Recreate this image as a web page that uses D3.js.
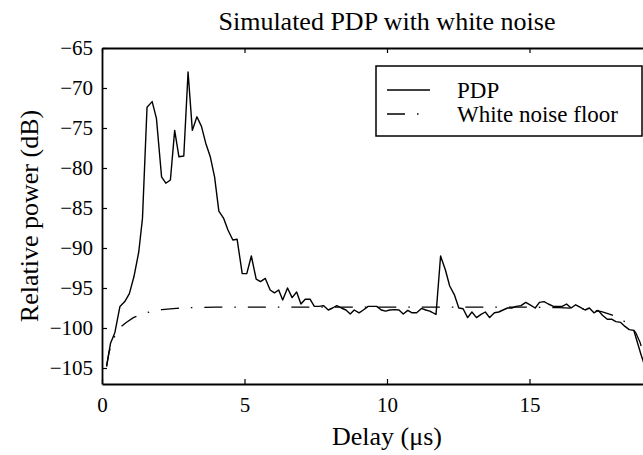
<!DOCTYPE html>
<html><head><meta charset="utf-8">
<script src="https://cdn.jsdelivr.net/npm/d3@7"></script>
<style>
body{margin:0;background:#fff}
svg{display:block}
text{font-family:"Liberation Serif","Times New Roman",serif;fill:#000}
</style>
</head><body>
<svg id="c" width="643" height="455"></svg>
<script>
// ---- data ----
const pdpDelay = [0.16,0.30,0.45,0.63,0.80,0.96,1.12,1.29,1.42,1.58,1.76,1.91,2.09,2.24,2.40,2.55,2.70,2.87,3.02,3.17,3.33,3.49,3.64,3.80,3.95,4.10,4.27,4.42,4.59,4.74,4.92,5.08,5.24,5.41,5.56,5.73,5.90,6.05,6.20,6.34,6.51,6.67,6.83,6.98,7.13,7.30,7.45,7.62,7.77,7.94,8.09,8.24,8.40,8.56,8.71,8.85,9.02,9.17,9.34,9.49,9.64,9.80,9.95,10.10,10.27,10.42,10.57,10.73,10.88,11.04,11.21,11.36,11.50,11.56,11.72,11.88,12.05,12.20,12.37,12.52,12.67,12.83,12.98,13.14,13.30,13.45,13.60,13.77,13.92,14.07,14.23,14.38,14.53,14.70,14.87,15.02,15.20,15.35,15.51,15.66,15.84,15.99,16.15,16.30,16.46,16.62,16.77,16.95,17.10,17.26,17.41,17.56,17.73,17.88,18.03,18.20,18.35,18.50,18.66,18.76,18.92,19.07];
const pdpPower = [-104.8,-101.9,-100.6,-97.3,-96.7,-95.7,-93.6,-90.5,-86.3,-72.4,-71.7,-73.8,-81.1,-81.9,-81.5,-75.3,-78.6,-78.5,-68.0,-75.3,-73.6,-74.8,-76.9,-78.6,-81.1,-85.4,-86.3,-87.75,-89.0,-88.9,-93.2,-93.2,-91.0,-93.9,-94.2,-93.8,-95.25,-95.6,-95.25,-96.5,-95.0,-96.2,-95.5,-97.0,-96.4,-96.4,-97.3,-97.3,-97.2,-97.75,-97.5,-97.2,-97.5,-97.75,-98.25,-97.75,-98.1,-97.75,-97.3,-97.3,-97.3,-97.75,-97.9,-97.75,-97.7,-97.75,-98.25,-97.8,-98.1,-98.1,-97.55,-97.75,-97.9,-98.0,-98.3,-91.0,-92.75,-94.75,-95.9,-97.5,-97.6,-98.7,-98.0,-98.7,-98.3,-98.0,-98.7,-98.1,-98.0,-97.75,-97.5,-97.5,-97.3,-97.2,-96.8,-97.1,-97.5,-96.8,-96.7,-97.0,-97.3,-97.3,-97.3,-97.0,-97.5,-97.1,-97.4,-97.75,-97.5,-98.1,-97.8,-98.4,-98.9,-98.9,-99.2,-99.3,-99.8,-100.2,-100.3,-101.5,-103.4,-105.0];
const noiseDelay = [0.16,0.25,0.35,0.50,0.65,0.85,1.10,1.40,1.70,2.10,2.60,3.20,4.00,9.60,15.23,16.03,16.63,17.13,17.53,17.83,18.13,18.38,18.58,18.73,18.88,18.98,19.07];
const noisePower = [-104.8,-103.0,-101.8,-100.6,-99.9,-99.3,-98.7,-98.3,-97.95,-97.7,-97.55,-97.45,-97.4,-97.4,-97.4,-97.45,-97.55,-97.7,-97.95,-98.3,-98.7,-99.3,-99.9,-100.6,-101.8,-103.0,-104.8];
const xTicks = [0,5,10,15,20];
const xTickLabels = ["0","5","10","15",""];
const yTicks = [-105,-100,-95,-90,-85,-80,-75,-70,-65];
const titleText = "Simulated PDP with white noise";
const xLabel = "Delay (\u03bcs)";
const yLabel = "Relative power (dB)";
const legendLabels = ["PDP","White noise floor"];

// ---- layout ----
const L = 102, T = 48, R = 672, B = 384;
const x = d3.scaleLinear().domain([0,20]).range([L,R]);
const y = d3.scaleLinear().domain([-107,-65]).range([B,T]);
const svg = d3.select("#c");
const fsTick = 21, fsLeg = 23, fsLab = 26;
const fmt = v => (v<0 ? "\u2212"+Math.abs(v) : String(v));

svg.append("defs").append("clipPath").attr("id","clip")
  .append("rect").attr("x",L).attr("y",T).attr("width",R-L).attr("height",B-T);

function styleAxis(g){
  g.select(".domain").attr("stroke","#000").attr("stroke-width",1.8);
  g.selectAll(".tick line").attr("stroke","#000").attr("stroke-width",1.2);
  g.selectAll(".tick text").attr("font-size",fsTick).attr("font-family","Liberation Serif");
}
svg.append("g").attr("transform",`translate(0,${B})`)
  .call(d3.axisBottom(x).tickValues(xTicks).tickFormat((d,i)=>xTickLabels[i]).tickSizeInner(-5).tickSizeOuter(0).tickPadding(13))
  .call(styleAxis);
svg.append("g").attr("transform",`translate(0,${T})`)
  .call(d3.axisTop(x).tickValues(xTicks).tickFormat("").tickSizeInner(-5).tickSizeOuter(0))
  .call(styleAxis);
svg.append("g").attr("transform",`translate(${L},0)`)
  .call(d3.axisLeft(y).tickValues(yTicks).tickFormat(fmt).tickSizeInner(-5).tickSizeOuter(0).tickPadding(9))
  .call(styleAxis);
svg.append("g").attr("transform",`translate(${R},0)`)
  .call(d3.axisRight(y).tickValues(yTicks).tickFormat("").tickSizeInner(-5).tickSizeOuter(0))
  .call(styleAxis);

const plot = svg.append("g").attr("clip-path","url(#clip)");
const line = d3.line().x(d=>x(d[0])).y(d=>y(d[1]));
plot.append("path").datum(noiseDelay.map((d,i)=>[d,noisePower[i]]))
  .attr("d",line).attr("fill","none").attr("stroke","#000").attr("stroke-width",1.3)
  .attr("stroke-dasharray","18,12,1.5,12");
plot.append("path").datum(pdpDelay.map((d,i)=>[d,pdpPower[i]]))
  .attr("d",line).attr("fill","none").attr("stroke","#000").attr("stroke-width",1.4)
  .attr("stroke-linejoin","round");

// title and labels
svg.append("text").attr("x",(L+R)/2).attr("y",30).attr("text-anchor","middle").attr("font-size",fsLab).text(titleText);
svg.append("text").attr("x",(L+R)/2).attr("y",445).attr("text-anchor","middle").attr("font-size",fsLab).text(xLabel);
svg.append("text").attr("transform",`translate(38,${(T+B)/2}) rotate(-90)`).attr("text-anchor","middle").attr("font-size",fsLab).text(yLabel);

// legend
const lg = svg.append("g");
lg.append("rect").attr("x",376).attr("y",66).attr("width",266).attr("height",70)
  .attr("fill","#fff").attr("stroke","#000").attr("stroke-width",1.5);
lg.append("line").attr("x1",387).attr("x2",430).attr("y1",90).attr("y2",90).attr("stroke","#000").attr("stroke-width",1.4);
lg.append("line").attr("x1",387).attr("x2",430).attr("y1",114).attr("y2",114).attr("stroke","#000").attr("stroke-width",1.3).attr("stroke-dasharray","18,12,1.5,12");
lg.append("text").attr("x",457).attr("y",98).attr("font-size",fsLeg).text(legendLabels[0]);
lg.append("text").attr("x",457).attr("y",122).attr("font-size",fsLeg).text(legendLabels[1]);
</script>
</body></html>
